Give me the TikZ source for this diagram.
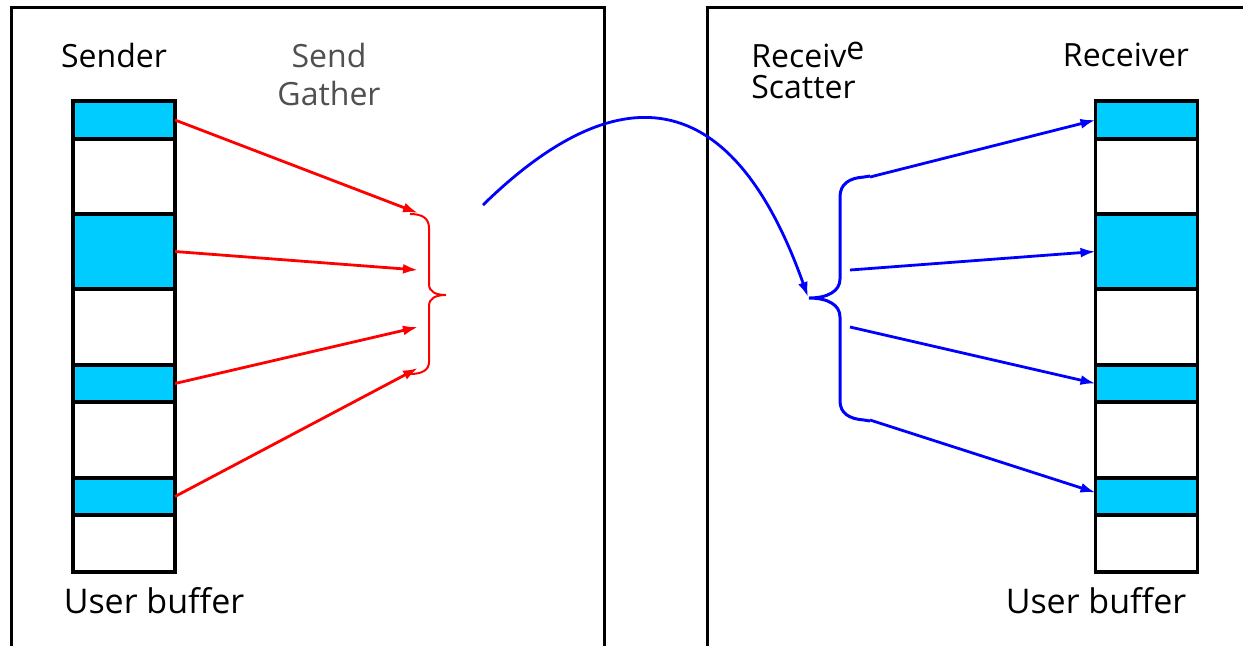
\documentclass[tikz,border=0pt]{standalone}
\usepackage{fontspec}
\setmainfont{Open Sans}
\usepackage{tikz}
\usetikzlibrary{arrows.meta}
\definecolor{buf-fill}{HTML}{00CCFF}
\definecolor{gray-label}{HTML}{505050}

\tikzset{
  cell/.style={draw, line width=1.6pt, minimum width=51pt, inner sep=0pt, outer sep=0pt},
  txt/.style={inner sep=0pt, font=\fontsize{16}{19}\selectfont},
  gatherarrow/.style={red, line width=1.4pt, -{Latex[length=7.5pt,width=5pt]}},
  scatterarrow/.style={blue, line width=1.4pt, -{Latex[length=7.5pt,width=5pt]}}
}

\begin{document}
\begin{tikzpicture}[x=0.5pt, y=-0.5pt]
    \clip (0,0) rectangle (1243,645);
    \fill[white] (0,0) rectangle (1243,645);

    % the two processes
    \draw[line width=1.5pt] (11,700) -- (11,7) -- (604,7) -- (604,700);
    \draw[line width=1.5pt] (707,700) -- (707,7) -- (1300,7);

    % user buffers, cyan parts are the data blocks
    \foreach \n/\yc/\h/\col in {2/176.5/75/white, 4/327/76/white, 6/440/76/white, 8/543.5/57/white,
                                1/120/38/buf-fill, 3/251.5/75/buf-fill, 5/383.5/37/buf-fill, 7/496.5/37/buf-fill}
    {
        \node[cell, fill=\col, minimum height=\h*0.5pt] (sb\n) at (124,\yc) {};
        \node[cell, fill=\col, minimum height=\h*0.5pt] (rb\n) at (1146.5,\yc) {};
    }

    \node[txt] (sender) at (114,55) {Sender};
    \node[txt, text=gray-label, align=center] (gather) at (329,74) {Send\\Gather};
    \node[txt, anchor=west, align=left, font=\fontsize{16}{15.5}\selectfont] (scatter) at (751,70) {Receiv\raisebox{4pt}{e}\\Scatter};
    \node[txt] (receiver) at (1126,55) {Receiver};
    \node[txt, font=\fontsize{17}{19}\selectfont] (sbuf) at (154,601) {User buffer};
    \node[txt, font=\fontsize{17}{19}\selectfont] (rbuf) at (1096,601) {User buffer};

    % gather side
    \coordinate (g1) at (418,213);
    \coordinate (g2) at (418,270);
    \coordinate (g3) at (418,327);
    \coordinate (g4) at (418,368);
    \draw[gatherarrow] (sb1.east) -- (g1);
    \draw[gatherarrow] (sb3.east) -- (g2);
    \draw[gatherarrow] (sb5.east) -- (g3);
    \draw[gatherarrow] (sb7.east) -- (g4);
    \draw[red, line width=1pt]
        (410,214) .. controls (422,214) and (429,218) .. (429,228) -- (429,284)
        .. controls (429,292) and (436,295) .. (446,295)
        .. controls (436,295) and (429,298) .. (429,306) -- (429,362)
        .. controls (429,370) and (422,374) .. (410,374);

    % the message
    \coordinate (msg) at (483,205);
    \coordinate (tip) at (808,297);
    \draw[scatterarrow] (msg) .. controls (575,115) and (715,35) .. (tip);

    % scatter side
    \draw[blue, line width=1.5pt]
        (870,176) -- (864,177) .. controls (849,178) and (840,184) .. (840,197) -- (840,279)
        .. controls (840,291) and (828,298) .. (809,298)
        .. controls (828,298) and (840,305) .. (840,317) -- (840,401)
        .. controls (840,413) and (849,419) .. (864,420) -- (870,421);
    \coordinate (c1) at (870,177);
    \coordinate (c2) at (850,270);
    \coordinate (c3) at (850,327);
    \coordinate (c4) at (870,420);
    \draw[scatterarrow] (c1) -- (rb1.west);
    \draw[scatterarrow] (c2) -- (rb3.west);
    \draw[scatterarrow] (c3) -- (rb5.west);
    \draw[scatterarrow] (c4) -- ([yshift=2pt]rb7.west);
\end{tikzpicture}
\end{document}
